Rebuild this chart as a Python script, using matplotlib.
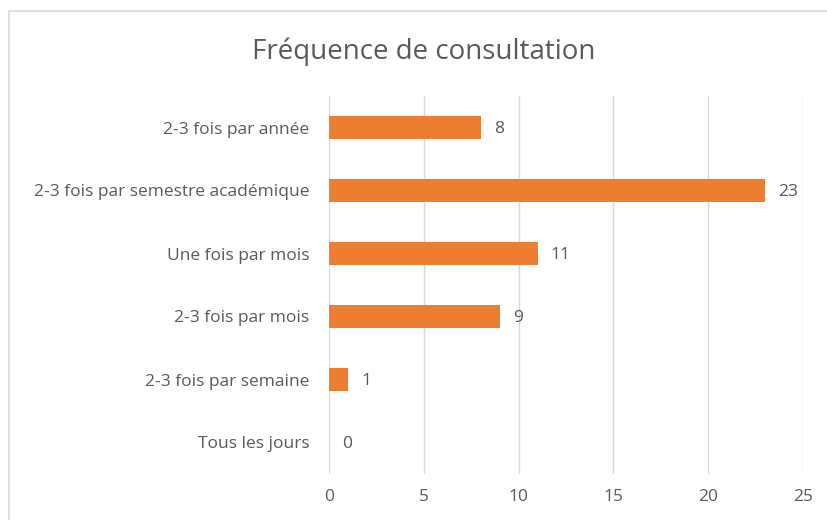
import matplotlib.pyplot as plt
from matplotlib.patches import Rectangle

categories = ['Tous les jours', '2-3 fois par semaine', '2-3 fois par mois',
              'Une fois par mois', '2-3 fois par semestre académique', '2-3 fois par année']
values = [0, 1, 9, 11, 23, 8]
xticks = [0, 5, 10, 15, 20, 25]

plt.rcParams['font.family'] = ['Open Sans', 'DejaVu Sans']
grey = '#595959'
orange = '#ED7D31'

fig = plt.figure(figsize=(8.27, 5.2), dpi=100)
ax = fig.add_axes([329 / 827, 1 - 474 / 520, (803 - 329) / 827, (474 - 96) / 520])

# chart border (clipped at right and bottom like the screenshot)
fig.patches.append(Rectangle((9 / 827, -0.01), 1, 1 - 11 / 520 + 0.01,
                             transform=fig.transFigure, fill=False,
                             edgecolor='#d9d9d9', linewidth=1.2))

y = range(len(categories))
ax.barh(y, values, height=0.35, color=orange, zorder=3)
for i, v in enumerate(values):
    ax.text(v + 0.7, i - 0.03, str(v), va='center', ha='left', fontsize=12.5, color=grey)

ax.set_xlim(0, 25)
ax.set_ylim(-0.5, len(categories) - 0.5)
ax.set_xticks(xticks)
ax.set_yticks(list(y))
ax.set_yticklabels(categories)
ax.tick_params(axis='both', length=0, labelsize=12.5, labelcolor=grey)
ax.tick_params(axis='y', pad=14)
ax.tick_params(axis='x', pad=11)
ax.grid(axis='x', color='#d9d9d9', linewidth=1, zorder=0)
for s in ax.spines.values():
    s.set_visible(False)

fig.text(424 / 827, 1 - 52 / 520, 'Fréquence de consultation', ha='center', va='center',
         fontsize=20, color=grey)

plt.savefig('out.png', dpi=100)
